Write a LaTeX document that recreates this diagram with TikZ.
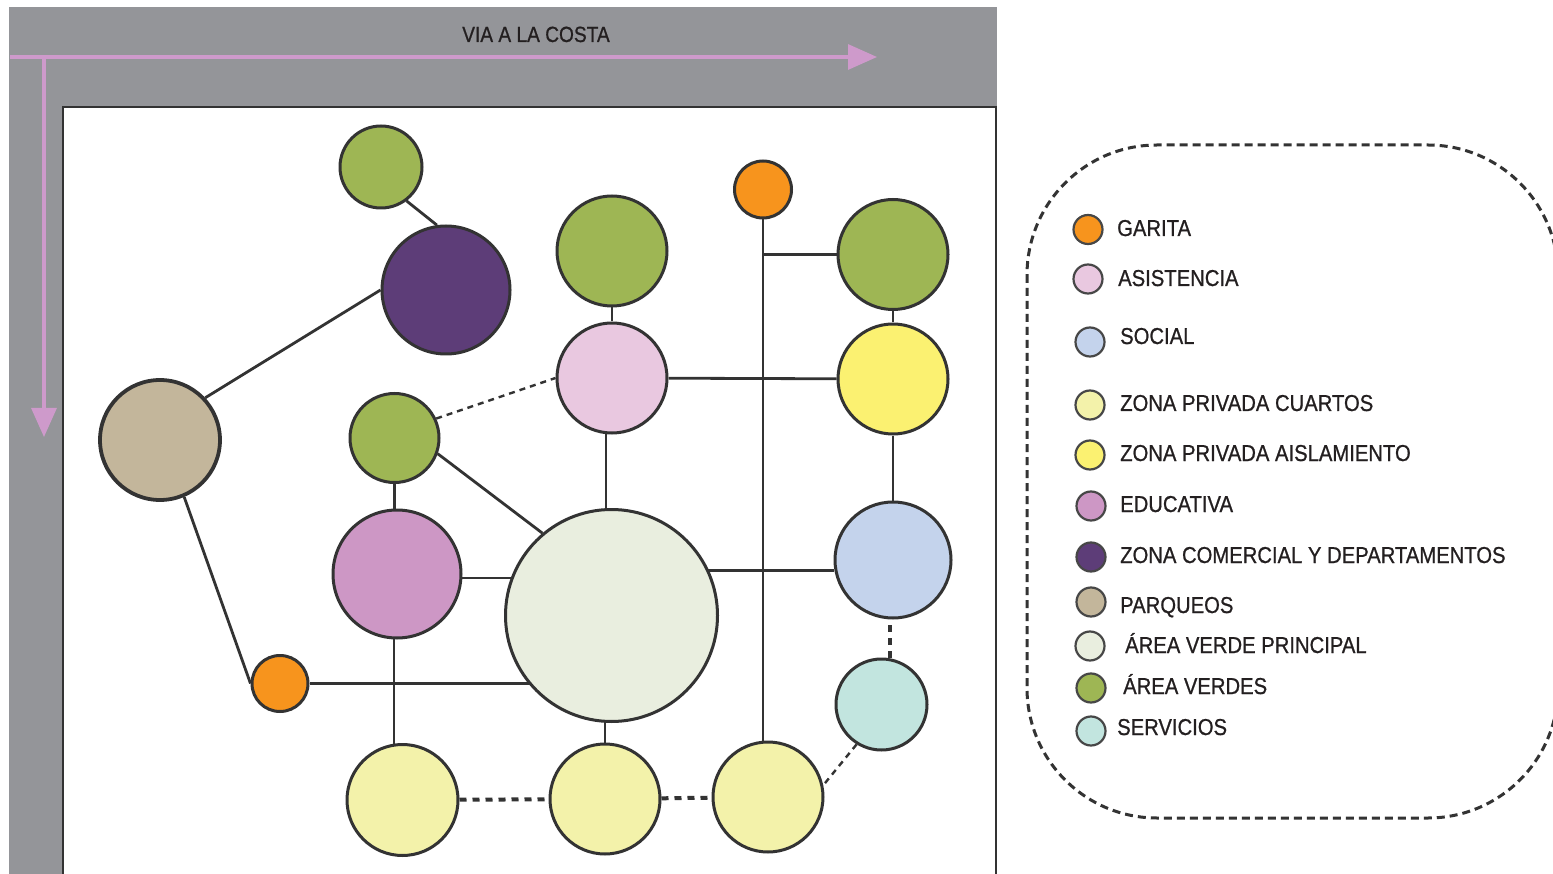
\documentclass[tikz,border=0pt]{standalone}
\usepackage{fontspec}
\setmainfont{Liberation Sans}
\newfontfamily\legfont[FakeStretch=0.88,FakeBold=0.8]{Liberation Sans}
\newfontfamily\ttlfont[FakeStretch=0.87,FakeBold=0.8]{Liberation Sans}
\usetikzlibrary{arrows.meta}
\pgfdeclarelayer{bg}
\pgfdeclarelayer{edges}
\pgfsetlayers{bg,edges,main}
\definecolor{cgarita}{HTML}{F7941D}
\definecolor{casist}{HTML}{E9C8E0}
\definecolor{csocial}{HTML}{C4D3EC}
\definecolor{ccuartos}{HTML}{F3F2AA}
\definecolor{caisla}{HTML}{FBF171}
\definecolor{cedu}{HTML}{CD97C5}
\definecolor{ccomer}{HTML}{5D3D78}
\definecolor{cparq}{HTML}{C3B69B}
\definecolor{cavp}{HTML}{E9EEDF}
\definecolor{cverde}{HTML}{9EB654}
\definecolor{cserv}{HTML}{C2E5DF}
\definecolor{croad}{HTML}{949599}
\definecolor{carrow}{HTML}{CE9ACB}
\definecolor{cline}{HTML}{333333}
\definecolor{ctext}{HTML}{231F20}
\tikzset{
  zone/.style={circle, draw=cline, line width=3pt, inner sep=0pt},
  link/.style={draw=cline, line width=2.8pt},
  dotline/.style={draw=cline, line width=4pt, dash pattern=on 7pt off 6pt},
  dashline/.style={draw=cline, line width=2.4pt, dash pattern=on 6pt off 5pt},
  lgdot/.style={circle, draw=cline!90, line width=2.2pt, inner sep=0pt, minimum size=29pt},
  lgtext/.style={anchor=base west, inner sep=0pt, text=ctext, font=\legfont\fontsize{23}{23}\selectfont},
  roadarrow/.style={draw=carrow, line width=3.2pt, -{Triangle[length=29pt,width=25pt]}}
}
\begin{document}
\begin{tikzpicture}[x=1pt,y=-1pt]
\useasboundingbox (0,0) rectangle (1553,874);
% background: road and plot
\begin{pgfonlayer}{bg}
  \fill[croad] (9,7) rectangle (997,880);
  \fill[white] (63,107) rectangle (996,890);
  \draw[cline, line width=2.5pt] (63,890) -- (63,107) -- (996,107) -- (996,890);
  \coordinate (hstart) at (10,57);
  \coordinate (hend) at (877,57);
  \coordinate (vstart) at (44,57);
  \coordinate (vend) at (44,437);
  \draw[roadarrow] (hstart) -- (hend);
  \draw[roadarrow] (vstart) -- (vend);
\end{pgfonlayer}
\node[anchor=base, inner sep=0pt, text=ctext, font=\ttlfont\fontsize{22}{22}\selectfont] (via) at (536,42) {VIA A LA COSTA};
% zones
\node[zone, fill=cverde, minimum size=82pt] (g1) at (381,167) {};
\node[zone, fill=ccomer, minimum size=128pt] (purple) at (446,290) {};
\node[zone, fill=cparq, minimum size=120pt, line width=3.8pt] (tan) at (160,440) {};
\node[zone, fill=cverde, minimum size=89pt] (gs) at (394.5,438) {};
\node[zone, fill=casist, minimum size=110pt] (pink) at (612,378) {};
\node[zone, fill=cverde, minimum size=110pt] (gtm) at (612,251) {};
\node[zone, fill=cgarita, minimum size=57pt] (otop) at (763,189.5) {};
\node[zone, fill=cverde, minimum size=110pt] (gtr) at (893,254.5) {};
\node[zone, fill=caisla, minimum size=110pt] (yel) at (893,379) {};
\node[zone, fill=csocial, minimum size=116pt] (soc) at (893,560) {};
\node[zone, fill=cedu, minimum size=128pt] (edu) at (397,574) {};
\node[zone, fill=cavp, minimum size=212pt] (big) at (611.5,615.5) {};
\node[zone, fill=cgarita, minimum size=56pt] (obot) at (280,683.5) {};
\node[zone, fill=cserv, minimum size=91pt] (serv) at (881.5,704.5) {};
\node[zone, fill=ccuartos, minimum size=111pt] (y1) at (402.5,800) {};
\node[zone, fill=ccuartos, minimum size=110pt] (y2) at (605,799) {};
\node[zone, fill=ccuartos, minimum size=110pt] (y3) at (768,797) {};
% connectors
\begin{pgfonlayer}{edges}
  \draw[link] (g1.-53) -- (purple.98);
  \draw[link] (tan.43) -- (purple.west);
  \draw[link] (tan.-67) -- (obot.west);
  \draw[link] (obot) -- (obot -| big);
  \draw[link] ([xshift=-3pt]edu.center) -- ([xshift=-3pt]edu.center |- y1);
  \draw[link] (gs) -- (gs |- edu);
  \draw[link] (gs.-20) -- (big.130);
  \draw[dashline] (gs.25) -- (pink.west);
  \draw[link] ([xshift=-6pt]pink.center) -- ([xshift=-6pt]pink.center |- big);
  \draw[link] ([yshift=-4pt]edu.center) -- ([yshift=-4pt]edu.center -| big);
  \draw[link] (soc.190) -- (soc.190 -| big);
  \draw[link] (y2) -- (y2 |- big);
  \draw[link] (pink) -- (yel);
  \draw[link] (gtm) -- (pink);
  \draw[link] (gtr) -- (yel);
  \draw[link] (yel) -- (soc);
  \draw[link] (otop) -- (otop |- y3);
  \draw[link] (otop |- gtr) -- (gtr);
  \draw[dotline] ([xshift=-3pt]soc.center) -- ([xshift=-3pt]soc.center |- serv);
  \draw[dashline] (serv.238) -- (y3.12);
  \draw[dotline] (y1) -- (y2);
  \draw[dotline] (y2) -- (y3);
\end{pgfonlayer}
% legend
\draw[cline, line width=3pt, dash pattern=on 8pt off 5pt, rounded corners=130pt] (1027,145) rectangle (1558,818);
\foreach \i/\cx/\cy/\by/\tx/\col/\txt in {
  1/1088/229.5/236/1117/cgarita/GARITA,
  2/1088/279/286/1118/casist/ASISTENCIA,
  3/1090/342/344/1120/csocial/SOCIAL,
  4/1090/405/411/1120/ccuartos/ZONA PRIVADA CUARTOS,
  5/1090/455/461/1120/caisla/ZONA PRIVADA AISLAMIENTO,
  6/1091/506/512/1120/cedu/EDUCATIVA,
  7/1091/557/563/1120/ccomer/ZONA COMERCIAL Y DEPARTAMENTOS,
  8/1091/602/613/1120/cparq/PARQUEOS,
  9/1090/646/653/1125/cavp/ÁREA VERDE PRINCIPAL,
  10/1091/688/694/1123/cverde/ÁREA VERDES,
  11/1091/731/735/1117/cserv/SERVICIOS}{
  \node[lgdot, fill=\col] (lg\i) at (\cx,\cy) {};
  \node[lgtext] (lt\i) at (\tx,\by) {\txt};
}
\end{tikzpicture}
\end{document}
